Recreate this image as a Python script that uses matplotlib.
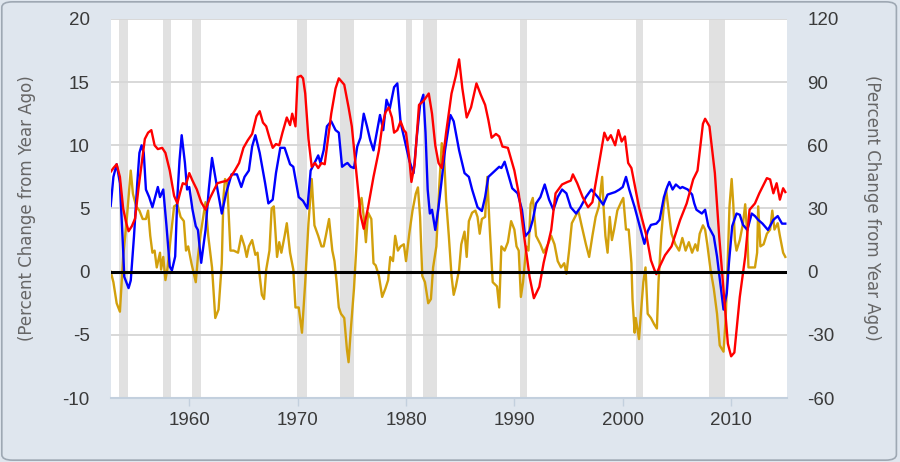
import matplotlib
matplotlib.use("Agg")
import matplotlib.pyplot as plt
from matplotlib.patches import FancyBboxPatch

# ---------------- data ----------------
red_t = [1952.75,1953.0,1953.3,1953.6,1953.9,1954.2,1954.4,1954.7,1955.0,1955.3,1955.6,1955.9,1956.2,1956.5,1956.8,
         1957.1,1957.5,1957.8,1958.2,1958.6,1958.9,1959.2,1959.4,1959.7,1960.0,1960.3,1960.7,1961.1,1961.5,1961.9,
         1962.3,1962.6,1963.0,1963.5,1963.9,1964.2,1964.6,1965.0,1965.4,1965.8,1966.2,1966.5,1966.8,1967.1,1967.4,
         1967.7,1968.0,1968.3,1968.6,1969.0,1969.3,1969.5,1969.8,1970.0,1970.3,1970.5,1970.7,1971.0,1971.3,1971.6,
         1971.9,1972.2,1972.5,1972.8,1973.1,1973.5,1973.8,1974.1,1974.3,1974.7,1975.0,1975.4,1975.8,1976.1,1976.5,
         1977.0,1977.5,1977.8,1978.1,1978.4,1978.7,1978.9,1979.2,1979.5,1979.8,1980.0,1980.3,1980.5,1980.8,1981.2,
         1981.6,1982.1,1982.4,1982.7,1983.0,1983.3,1983.7,1984.2,1984.6,1984.9,1985.2,1985.6,1986.0,1986.5,1986.9,
         1987.3,1987.6,1987.9,1988.3,1988.6,1988.9,1989.4,1990.0,1990.4,1990.9,1991.4,1991.8,1992.3,1992.7,1993.4,
         1993.8,1994.4,1994.9,1995.2,1995.4,1995.8,1996.3,1996.8,1997.2,1997.7,1998.3,1998.6,1998.9,1999.3,1999.6,
         1999.9,2000.2,2000.5,2000.8,2001.5,2002.2,2002.6,2002.9,2003.1,2003.4,2003.9,2004.5,2005.3,2005.9,2006.5,
         2006.9,2007.4,2007.6,2008.0,2008.5,2008.9,2009.4,2009.7,2010.0,2010.3,2010.8,2011.3,2011.7,2012.2,2012.6,
         2013.3,2013.6,2013.9,2014.2,2014.5,2014.8,2015.0]
red_v = [7.9,8.2,8.5,7.5,5.0,3.8,3.2,3.6,4.2,6.5,8.5,10.5,11.0,11.2,10.0,
         9.7,9.8,9.4,8.0,6.0,5.4,6.4,7.0,6.9,7.8,7.2,6.5,5.5,4.9,5.8,
         6.5,7.0,7.1,7.2,7.6,8.0,8.6,9.8,10.4,10.9,12.3,12.7,11.8,11.5,10.6,
         9.8,10.1,10.0,11.0,12.2,11.6,12.5,11.5,15.4,15.5,15.3,14.1,10.5,8.3,8.6,
         8.2,8.6,8.5,10.5,12.5,14.5,15.3,15.0,14.8,13.0,11.5,8.0,4.5,3.4,5.1,
         7.5,9.6,11.5,12.6,13.0,12.2,11.0,11.2,11.9,11.2,11.0,9.0,7.1,8.5,13.2,
         13.5,14.1,12.5,10.0,8.6,8.2,11.0,14.1,15.5,16.8,14.5,12.2,13.0,14.9,14.0,
         13.2,12.0,10.6,10.9,10.7,9.9,9.8,8.0,6.2,2.8,-0.4,-2.1,-1.2,0.7,3.3,
         6.2,6.9,7.1,7.2,7.7,7.0,5.9,5.1,5.5,8.0,11.0,10.4,10.8,10.0,11.2,
         10.3,10.7,8.6,8.2,5.1,2.8,0.9,0.2,-0.2,0.4,1.3,2.0,4.1,5.4,7.3,
         8.0,11.7,12.1,11.5,7.8,2.8,-2.5,-5.7,-6.7,-6.4,-2.0,1.2,4.9,5.4,6.2,
         7.4,7.3,6.2,7.0,5.7,6.6,6.3]

blue_t = [1952.75,1953.0,1953.3,1953.6,1953.9,1954.0,1954.4,1954.6,1954.9,1955.2,1955.4,1955.6,1955.8,1956.0,1956.3,
          1956.6,1957.1,1957.3,1957.6,1957.9,1958.2,1958.4,1958.7,1958.9,1959.1,1959.3,1959.6,1959.8,1960.0,1960.3,
          1960.6,1960.8,1961.1,1961.5,1961.8,1962.1,1962.5,1963.0,1963.4,1963.9,1964.4,1964.8,1965.1,1965.5,1965.8,
          1966.1,1966.5,1967.0,1967.3,1967.7,1968.0,1968.4,1968.8,1969.3,1969.6,1970.1,1970.5,1970.9,1971.2,1971.5,
          1971.9,1972.1,1972.4,1972.7,1973.1,1973.5,1973.8,1974.1,1974.4,1974.6,1974.9,1975.2,1975.5,1975.8,1976.1,
          1976.4,1976.7,1977.0,1977.3,1977.6,1977.9,1978.2,1978.5,1978.9,1979.2,1979.5,1979.8,1980.3,1980.7,1981.0,
          1981.3,1981.6,1981.8,1982.0,1982.2,1982.4,1982.7,1983.0,1983.3,1983.6,1984.1,1984.4,1984.9,1985.4,1985.8,
          1986.1,1986.6,1987.0,1987.3,1987.6,1988.1,1988.6,1988.8,1989.1,1989.4,1989.8,1990.3,1990.7,1991.0,1991.4,
          1991.7,1992.0,1992.4,1992.8,1993.2,1993.6,1994.0,1994.4,1994.8,1995.2,1995.7,1996.1,1996.6,1997.1,1997.4,
          1997.7,1998.2,1998.6,1999.3,1999.7,2000.0,2000.3,2000.6,2001.1,2001.5,2002.0,2002.3,2002.6,2003.1,2003.4,
          2003.8,2004.1,2004.3,2004.6,2004.9,2005.3,2005.5,2006.0,2006.4,2006.6,2006.8,2007.3,2007.6,2007.9,2008.4,
          2008.7,2009.0,2009.3,2009.6,2009.8,2010.1,2010.5,2010.8,2011.1,2011.5,2011.9,2012.2,2012.5,2012.9,2013.4,
          2013.9,2014.3,2014.7,2015.0]
blue_v = [5.2,7.5,8.5,7.0,1.7,-0.4,-1.3,-0.7,2.8,7.0,9.4,10.0,9.4,6.5,5.9,
          5.1,6.7,5.9,6.5,3.6,0.4,0.1,1.2,5.9,8.8,10.8,8.6,6.5,6.7,4.9,
          3.6,3.3,0.7,3.3,6.5,9.0,7.0,4.6,6.2,7.7,7.7,6.7,7.5,8.0,9.9,
          10.8,9.4,7.0,5.4,5.7,7.8,9.8,9.8,8.5,8.3,5.9,5.6,5.0,8.0,8.5,
          9.2,8.6,9.6,11.5,11.9,11.2,11.0,8.3,8.5,8.6,8.3,8.2,9.9,10.6,12.5,
          11.5,10.4,9.6,11.0,12.4,11.2,13.6,12.9,14.6,14.9,11.8,10.7,8.8,7.8,10.7,
          13.2,14.0,11.0,6.5,4.6,4.9,3.3,5.1,7.3,9.6,12.4,11.9,9.6,7.8,7.5,
          6.5,5.1,4.8,5.9,7.5,7.9,8.3,8.2,8.7,7.8,6.6,6.2,4.9,2.8,3.2,
          4.1,5.4,5.9,6.9,5.7,4.9,5.9,6.5,6.2,5.1,4.6,5.1,5.9,6.5,6.2,
          5.9,5.3,6.1,6.3,6.5,6.7,7.5,6.5,5.1,3.8,2.2,3.2,3.7,3.8,4.1,
          5.9,6.7,7.1,6.5,6.9,6.6,6.7,6.5,6.1,5.4,4.9,4.6,4.9,3.6,2.8,
          1.2,-0.9,-3.0,-1.7,0.7,3.6,4.6,4.5,3.7,3.3,4.6,4.4,4.1,3.8,3.3,
          4.1,4.4,3.8,3.8]

gold_t = [1952.75,1953.0,1953.3,1953.6,1953.9,1954.2,1954.6,1954.8,1955.1,1955.4,1955.7,1956.0,1956.2,1956.4,1956.6,
          1956.8,1957.0,1957.3,1957.4,1957.6,1957.8,1958.0,1958.3,1958.6,1958.9,1959.2,1959.5,1959.7,1959.9,1960.2,
          1960.6,1960.8,1961.05,1961.5,1961.75,1962.1,1962.4,1962.7,1963.0,1963.15,1963.3,1963.5,1963.8,1964.1,1964.5,
          1964.8,1965.1,1965.3,1965.5,1965.8,1966.1,1966.3,1966.5,1966.7,1966.9,1967.1,1967.4,1967.6,1967.8,1968.1,
          1968.3,1968.5,1968.8,1969.0,1969.3,1969.6,1969.8,1970.1,1970.4,1970.7,1971.0,1971.3,1971.55,1971.9,1972.2,
          1972.4,1972.6,1972.9,1973.2,1973.4,1973.6,1973.8,1974.0,1974.3,1974.55,1974.7,1974.9,1975.2,1975.4,1975.6,
          1975.9,1976.1,1976.3,1976.5,1976.8,1977.0,1977.2,1977.5,1977.8,1978.1,1978.35,1978.55,1978.8,1979.0,1979.25,
          1979.5,1979.8,1980.0,1980.3,1980.6,1980.9,1981.1,1981.3,1981.5,1981.75,1982.05,1982.3,1982.5,1982.8,1983.05,
          1983.3,1983.5,1983.7,1983.95,1984.2,1984.4,1984.6,1984.9,1985.1,1985.4,1985.6,1985.8,1986.1,1986.4,1986.6,
          1986.8,1987.0,1987.3,1987.5,1987.7,1988.0,1988.2,1988.4,1988.6,1988.8,1989.1,1989.4,1989.7,1990.0,1990.2,
          1990.4,1990.6,1990.8,1991.1,1991.3,1991.5,1991.7,1992.0,1992.2,1992.4,1992.7,1993.1,1993.4,1993.7,1994.0,
          1994.3,1994.6,1994.8,1995.05,1995.3,1995.6,1995.9,1996.2,1996.6,1996.9,1997.2,1997.5,1997.8,1998.1,1998.25,
          1998.4,1998.6,1998.8,1999.0,1999.2,1999.5,1999.85,2000.05,2000.3,2000.55,2000.8,2000.9,2001.1,2001.2,2001.5,
          2001.7,2001.9,2002.1,2002.3,2002.6,2002.9,2003.15,2003.3,2003.55,2003.8,2004.0,2004.3,2004.5,2004.85,2005.2,
          2005.5,2005.8,2006.1,2006.4,2006.7,2006.9,2007.1,2007.4,2007.6,2007.8,2008.1,2008.4,2008.7,2008.95,2009.3,
          2009.5,2009.7,2009.85,2010.05,2010.2,2010.35,2010.5,2010.8,2011.1,2011.3,2011.5,2011.6,2011.9,2012.2,2012.4,
          2012.5,2012.7,2013.0,2013.3,2013.6,2013.8,2014.0,2014.3,2014.5,2014.8,2015.0]
gold_v = [0,-5,-15,-19,7,23,48,37,31,29,25,25,29,17,9,
          10,2,9,1,7,-4,2,17,31,32,26,24,10,12,4,
          -5,7,18,33,17,2,-22,-18,4,35,44,42,10,10,9,
          17,12,7,12,15,8,9,-2,-11,-13,1,10,30,31,7,
          14,9,17,23,9,1,-17,-17,-29,-5,23,44,22,17,12,
          12,17,25,10,5,-5,-17,-20,-22,-37,-43,-28,-8,10,29,
          35,26,14,28,25,4,3,-2,-12,-8,-4,7,5,17,10,
          12,13,5,18,29,37,40,26,-2,-5,-15,-13,2,12,39,
          61,56,34,17,-2,-11,-7,1,13,19,7,24,28,29,26,
          18,25,26,45,23,-5,-6,-7,-17,12,10,14,24,20,12,
          10,-12,-5,12,10,32,35,17,15,13,9,13,17,13,5,
          2,4,-1,10,23,26,29,22,13,7,17,26,31,45,29,
          17,9,26,15,20,29,33,35,20,20,4,-13,-29,-22,-32,
          -18,-5,2,-20,-22,-25,-27,-5,17,32,39,26,18,13,10,
          16,10,14,9,13,10,18,22,20,13,1,-8,-20,-35,-38,
          -22,7,31,44,32,15,10,15,23,32,17,2,2,2,9,
          31,12,13,18,20,29,20,23,17,9,7]

recessions = [(1953.5, 1954.37), (1957.62, 1958.29), (1960.29, 1961.12), (1969.96, 1970.87),
              (1973.87, 1975.21), (1980.04, 1980.54), (1981.54, 1982.87), (1990.54, 1991.21),
              (2001.21, 2001.87), (2007.96, 2009.46)]

left_ticks = [-10, -5, 0, 5, 10, 15, 20]
right_ticks = [-60, -30, 0, 30, 60, 90, 120]
x_ticks = [1960, 1970, 1980, 1990, 2000, 2010]

# ---------------- figure ----------------
BG = "#dfe6ee"
fig = plt.figure(figsize=(9.0, 4.62), dpi=100, facecolor=BG)
frame = FancyBboxPatch((0.002, 0.004), 0.994, 0.992, boxstyle="round,pad=0,rounding_size=0.012",
                       transform=fig.transFigure, facecolor=BG, edgecolor="#9ea8b3", lw=1.2, zorder=-10)
fig.patches.append(frame)

# bottom axes (right scale): background, recessions, grid, gold series
axb = fig.add_axes([0.123, 0.1385, 0.751, 0.8205])
axb.set_facecolor("white")
axb.set_xlim(1952.75, 2015.12)
axb.set_ylim(-60, 120)
for a, b in recessions:
    axb.axvspan(a, b, color="#e1e1e1", lw=0, zorder=0)
for yv in right_ticks:
    axb.axhline(yv, color="#d6d6d6", lw=1.3, zorder=1)
axb.plot(gold_t, gold_v, color="#d2a00c", lw=1.7, zorder=3)
axb.yaxis.tick_right()
axb.yaxis.set_label_position("right")

# top axes (left scale), transparent
ax = fig.add_axes([0.123, 0.1385, 0.751, 0.8205], sharex=axb)
ax.patch.set_visible(False)
ax.set_ylim(-10, 20)
ax.axhline(0, color="black", lw=2.2, zorder=5)
ax.plot(blue_t, blue_v, color="#0000ff", lw=1.7, zorder=3)
ax.plot(red_t, red_v, color="#ff0000", lw=1.7, zorder=4)

tick_font = dict(family=["Liberation Sans", "DejaVu Sans"], size=13.5, color="#3a3a3a")
ax.set_yticks(left_ticks)
ax.set_yticklabels([str(t) for t in left_ticks], **tick_font)
axb.set_yticks(right_ticks)
axb.set_yticklabels([str(t) for t in right_ticks], **tick_font)
axb.set_xticks(x_ticks)
axb.set_xticklabels([str(t) for t in x_ticks], **tick_font)
ax.tick_params(axis="x", bottom=False, labelbottom=False)
ax.tick_params(axis="y", length=0, pad=15)
axb.tick_params(axis="y", length=0, pad=15)
axb.tick_params(axis="x", length=6, width=1, color="#c3d0de", pad=4)

for a_ in (ax, axb):
    for s in a_.spines.values():
        s.set_visible(False)
axb.spines["bottom"].set_visible(True)
axb.spines["bottom"].set_color("#c3d0de")
axb.spines["bottom"].set_linewidth(1.5)

lab = dict(family="DejaVu Sans", size=12, color="#666666")
fig.text(0.030, 0.55, "(Percent Change from Year Ago)", rotation=90, ha="center", va="center", **lab)
fig.text(0.969, 0.55, "(Percent Change from Year Ago)", rotation=270, ha="center", va="center", **lab)

fig.savefig("out.png", dpi=100, facecolor=BG)
